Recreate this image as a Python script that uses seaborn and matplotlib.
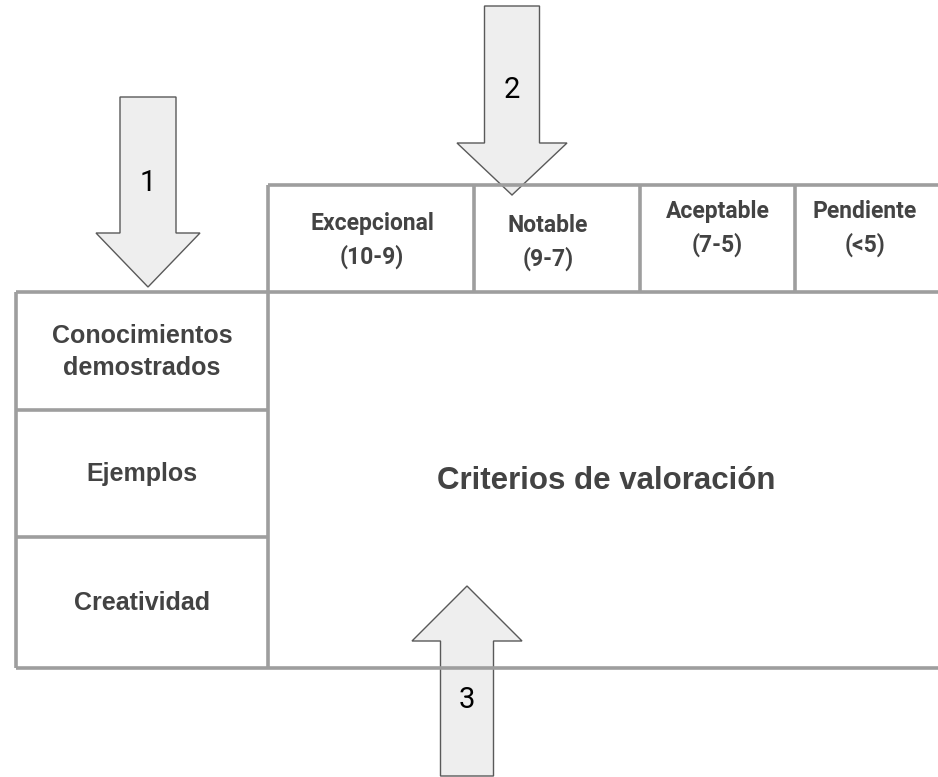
import matplotlib
matplotlib.use("Agg")
import matplotlib.pyplot as plt
import seaborn as sns
from matplotlib.patches import Polygon

# Contenido del esquema
niveles = ["Excepcional", "Notable", "Aceptable", "Pendiente"]
rangos = ["(10-9)", "(9-7)", "(7-5)", "(<5)"]
criterios = ["Conocimientos\ndemostrados", "Ejemplos", "Creatividad"]
centro = "Criterios de valoración"
flechas = ["1", "2", "3"]

# Geometría (en píxeles de la figura)
col_bordes = [268, 474, 640, 795, 938]
fila_bordes = [292, 410, 537, 668]
cab_arriba = 185
izq = 16

sns.set_theme(style="white")
plt.rcParams['font.family'] = ['Liberation Sans', 'DejaVu Sans']

fig = plt.figure(figsize=(9.38, 7.77), dpi=100)
ax = fig.add_axes([0, 0, 1, 1])
ax.set_xlim(0, 938)
ax.set_ylim(777, 0)
ax.axis("off")

gris = "#9e9e9e"
texto = "#434343"
lw = 2.6


def flecha(cx, arriba, abajo, base_cabeza, ancho, ancho_cabeza, hacia_abajo=True):
    a, c = ancho / 2, ancho_cabeza / 2
    if hacia_abajo:
        pts = [(cx - a, arriba), (cx + a, arriba), (cx + a, base_cabeza),
               (cx + c, base_cabeza), (cx, abajo), (cx - c, base_cabeza),
               (cx - a, base_cabeza)]
    else:
        pts = [(cx - a, abajo), (cx + a, abajo), (cx + a, base_cabeza),
               (cx + c, base_cabeza), (cx, arriba), (cx - c, base_cabeza),
               (cx - a, base_cabeza)]
    ax.add_patch(Polygon(pts, closed=True, facecolor="#eeeeee",
                         edgecolor="#595959", linewidth=1.0, zorder=1))


num_kw = dict(ha="center", va="center", fontsize=21, color="black",
              family=['Roboto', 'DejaVu Sans'])
flecha(148, 97, 287, 233, 56, 104)
ax.text(148, 183, flechas[0], **num_kw)
flecha(512, 6, 195, 143, 55, 110)
ax.text(512, 90, flechas[1], **num_kw)
flecha(467, 586, 776, 641, 53, 110, hacia_abajo=False)
ax.text(467, 700, flechas[2], **num_kw)

# Líneas de la tabla
kw = dict(color=gris, linewidth=lw, zorder=3, solid_capstyle="butt")
ax.plot([col_bordes[0], col_bordes[-1]], [cab_arriba, cab_arriba], **kw)
ax.plot([izq, col_bordes[-1]], [fila_bordes[0], fila_bordes[0]], **kw)
ax.plot([izq, col_bordes[-1]], [fila_bordes[-1], fila_bordes[-1]], **kw)
for y in fila_bordes[1:-1]:
    ax.plot([izq, col_bordes[0]], [y, y], **kw)
ax.plot([izq, izq], [fila_bordes[0], fila_bordes[-1]], **kw)
ax.plot([col_bordes[0], col_bordes[0]], [cab_arriba, fila_bordes[-1]], **kw)
for x in col_bordes[1:-1]:
    ax.plot([x, x], [cab_arriba, fila_bordes[0]], **kw)

# Cabeceras de nivel
desfase_x = [1, -9, 0, -2]
desfase_y = [2, 4, -10, -10]
for i, (n, r) in enumerate(zip(niveles, rangos)):
    cx = (col_bordes[i] + col_bordes[i + 1]) / 2 + desfase_x[i]
    cy = (cab_arriba + fila_bordes[0]) / 2 + desfase_y[i]
    ax.text(cx, cy, n + "\n" + r, ha="center", va="center", fontsize=16.5,
            fontweight="bold", color=texto, linespacing=1.5,
            family=['Roboto', 'DejaVu Sans'])

# Criterios
for i, c in enumerate(criterios):
    cy = (fila_bordes[i] + fila_bordes[i + 1]) / 2 + 1
    ax.text((izq + col_bordes[0]) / 2, cy, c, ha="center", va="center",
            fontsize=18, fontweight="bold", color=texto, linespacing=1.45)

ax.text(606, 481, centro, ha="center", va="center", fontsize=22.5,
        fontweight="bold", color=texto)

fig.savefig("out.png", dpi=100)
